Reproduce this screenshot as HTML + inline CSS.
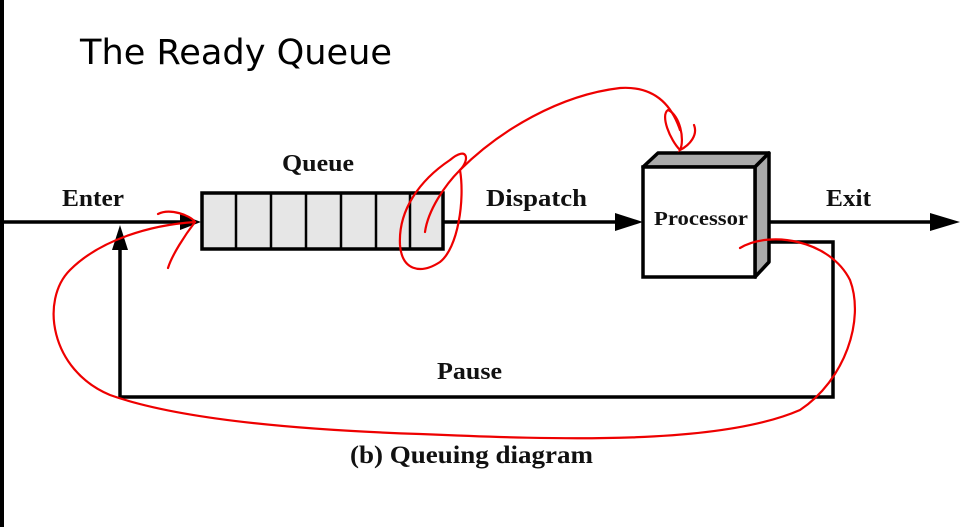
<!DOCTYPE html>
<html><head><style>html,body{margin:0;padding:0;background:#fff;width:963px;height:527px;overflow:hidden}</style></head>
<body>
<svg width="963" height="527" viewBox="0 0 963 527" xmlns="http://www.w3.org/2000/svg">
<rect x="0" y="0" width="4" height="527" fill="#000"/>
<text x="80" y="64" font-family="'DejaVu Sans','Liberation Sans',sans-serif" font-size="35" fill="#000" textLength="312" lengthAdjust="spacingAndGlyphs">The Ready Queue</text>
<g stroke="#000" stroke-width="3.5" fill="none">
<line x1="0" y1="222" x2="190" y2="222"/>
<line x1="444" y1="222" x2="620" y2="222"/>
<line x1="768" y1="222" x2="935" y2="222"/>
<polyline points="760,242 833,242 833,397 120,397 120,245"/>
</g>
<g fill="#000">
<polygon points="180,214 201,222 180,230"/>
<polygon points="615,213 643,222 615,231"/>
<polygon points="930,213 960,222 930,231"/>
<polygon points="112,250 120,225 128,250"/>
</g>
<rect x="202" y="193" width="241" height="56" fill="#e6e6e6" stroke="#000" stroke-width="3.5"/>
<g stroke="#000" stroke-width="2.5">
<line x1="236" y1="193" x2="236" y2="249"/><line x1="271" y1="193" x2="271" y2="249"/>
<line x1="306" y1="193" x2="306" y2="249"/><line x1="341" y1="193" x2="341" y2="249"/>
<line x1="376" y1="193" x2="376" y2="249"/><line x1="410" y1="193" x2="410" y2="249"/>
</g>
<polygon points="643,167 658,153 769,153 755,167" fill="#aaa" stroke="#000" stroke-width="3.5" stroke-linejoin="round"/>
<polygon points="755,167 769,153 769,262 755,277" fill="#aaa" stroke="#000" stroke-width="3.5" stroke-linejoin="round"/>
<rect x="643" y="167" width="112" height="110" fill="#fff" stroke="#000" stroke-width="3.5"/>
<g font-family="'Liberation Serif',serif" font-weight="bold" fill="#111">
<text x="62" y="206" font-size="24" textLength="62" lengthAdjust="spacingAndGlyphs">Enter</text>
<text x="282" y="171" font-size="24" textLength="72" lengthAdjust="spacingAndGlyphs">Queue</text>
<text x="486" y="206" font-size="24" textLength="101" lengthAdjust="spacingAndGlyphs">Dispatch</text>
<text x="654" y="225" font-size="20" textLength="94" lengthAdjust="spacingAndGlyphs">Processor</text>
<text x="826" y="206" font-size="24" textLength="45" lengthAdjust="spacingAndGlyphs">Exit</text>
<text x="437" y="379" font-size="24" textLength="65" lengthAdjust="spacingAndGlyphs">Pause</text>
<text x="350" y="463" font-size="25" textLength="243" lengthAdjust="spacingAndGlyphs">(b) Queuing diagram</text>
</g>
<g stroke="#e00" stroke-width="2.2" fill="none" stroke-linecap="round">
<path d="M740,248 C770,230 830,240 850,280 C865,320 845,380 800,410 C720,445 560,440 420,434 C300,430 180,420 110,395 C50,370 40,300 70,270 C100,240 150,225 195,222"/>
<path d="M158,214 C170,208 190,215 195,222 C185,235 172,255 168,268"/>
<path d="M425,232 C428,210 445,185 460,170 C470,160 468,145 450,160 C420,180 398,210 400,245 C402,270 420,275 440,262 C458,248 465,200 460,170"/>
<path d="M460,170 C500,130 560,95 620,88 C650,86 670,100 680,130"/>
<path d="M680,150 C670,140 660,115 668,110 C680,115 685,140 680,150 C690,145 698,135 694,125"/>
</g>
</svg>
</body></html>
